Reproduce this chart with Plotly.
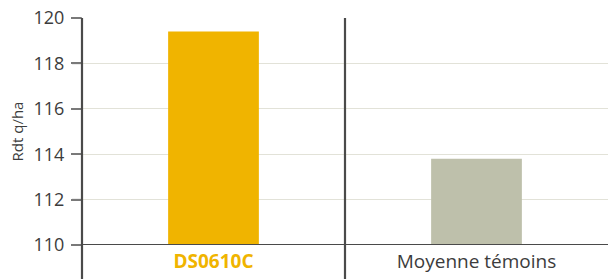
import plotly.graph_objects as go

categories = ["DS0610C", "Moyenne témoins"]
values = [119.4, 113.8]
bar_colors = ["#f0b400", "#bec0ab"]
label_colors = ["#f0b400", "#3c3c3c"]
label_bold = [True, False]
y_range = [110, 120]
y_ticks = [110, 112, 114, 116, 118, 120]

ticktext = []
for c, col, b in zip(categories, label_colors, label_bold):
    t = f"<span style='color:{col}'>{c}</span>"
    if b:
        t = f"<b>{t}</b>"
    ticktext.append(t)

fig = go.Figure()
fig.add_trace(go.Bar(
    x=categories, y=values, marker=dict(color=bar_colors, line=dict(width=0)),
    width=0.345,
))

axis_dark = "#4a4a4a"
fig.update_layout(
    width=608, height=279,
    margin=dict(l=82, r=0, t=18, b=34, autoexpand=False),
    paper_bgcolor="white", plot_bgcolor="white",
    showlegend=False,
    font=dict(family="Open Sans", color="#3c3c3c"),
    xaxis=dict(
        type="category", tickvals=categories, ticktext=ticktext,
        showline=False, ticks="", showgrid=False, automargin=False,
        tickfont=dict(size=19), range=[-0.5, 1.5], ticklabelstandoff=3,
    ),
    yaxis=dict(
        range=y_range, tickvals=y_ticks, showgrid=True, automargin=False,
        gridcolor="#e2e2d8", gridwidth=1.2, zeroline=False,
        ticks="outside", ticklen=10, tickcolor="#7a7a7a", tickwidth=1.5,
        tickfont=dict(size=18, color="#3c3c3c"), ticklabelstandoff=3,
        title=dict(text="Rdt q/ha", font=dict(size=15, color="#3c3c3c"), standoff=6),
        showline=False,
    ),
)

# tick marks left of the y axis (positioned through the axis range)
for v in y_ticks:
    f = (v - y_range[0]) / (y_range[1] - y_range[0])
    fig.add_shape(type="line", xref="paper", yref="paper", x0=-0.019, x1=0, y0=f, y1=f,
                  line=dict(color="#7a7a7a", width=1.5), layer="above")

# y-axis line extending below the plot
fig.add_shape(type="line", xref="paper", yref="paper", x0=0, x1=0, y0=-0.16, y1=1,
              line=dict(color=axis_dark, width=2.2))
# category separator
fig.add_shape(type="line", xref="x", yref="paper", x0=0.5, x1=0.5, y0=-0.16, y1=1,
              line=dict(color=axis_dark, width=2.2))
# baseline
fig.add_shape(type="line", xref="paper", yref="y", x0=0, x1=1, y0=110, y1=110,
              line=dict(color=axis_dark, width=2.2))

fig.write_html(
    "out.html",
    config={"displayModeBar": False},
    post_script="document.body.style.margin='0';document.body.style.overflow='hidden';",
)
